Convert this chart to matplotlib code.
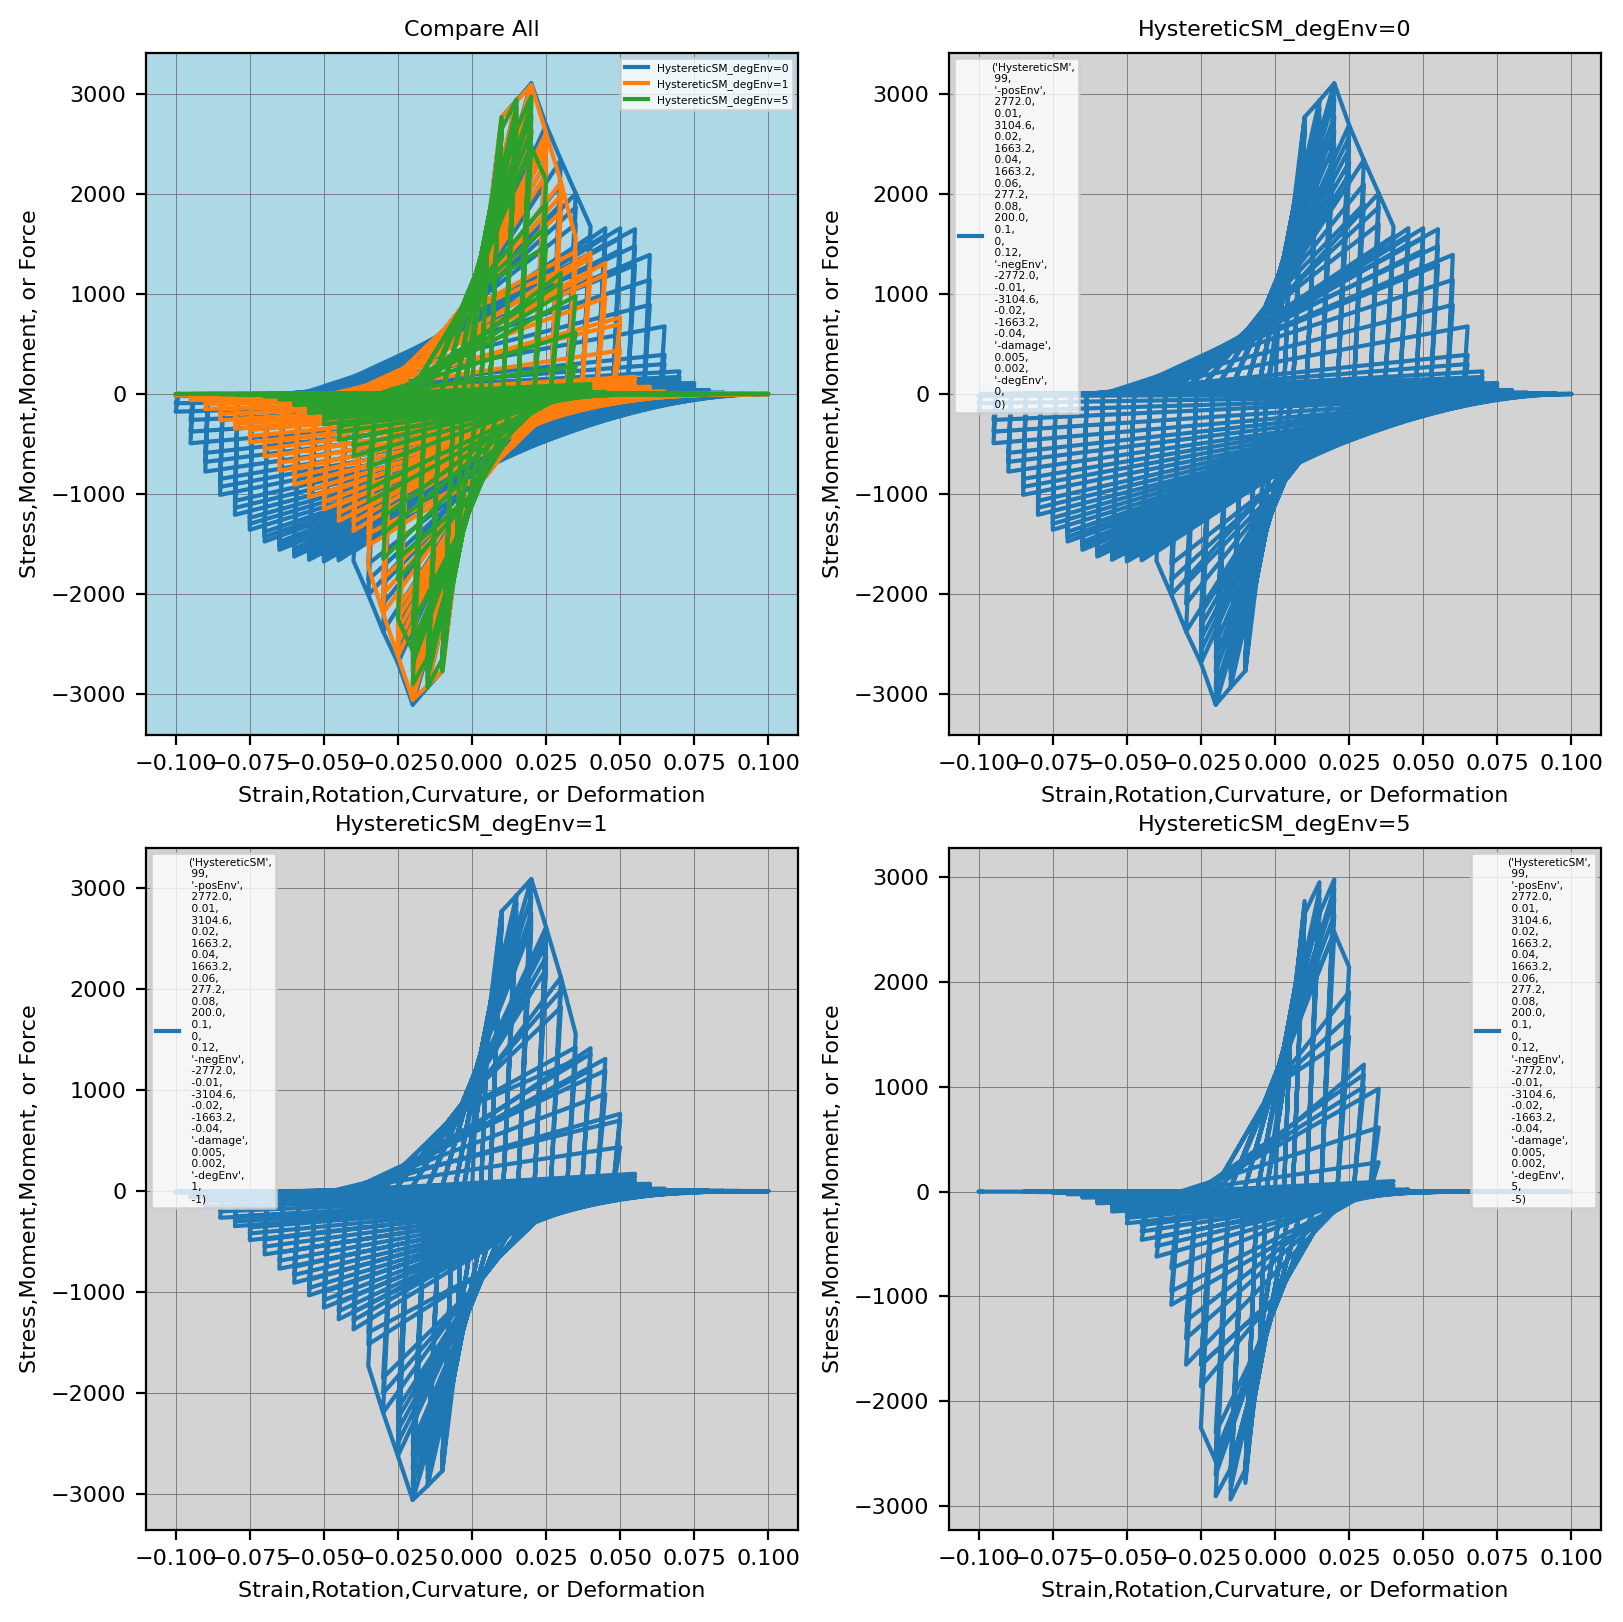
import matplotlib
matplotlib.use('Agg')
import matplotlib.pyplot as plt

# amplitudes of the strain history, one column of loop tips for each
amps = [0.005, 0.01, 0.015, 0.02, 0.025, 0.03, 0.035, 0.04, 0.045, 0.05,
        0.055, 0.06, 0.065, 0.07, 0.075, 0.08, 0.085, 0.09, 0.095, 0.1]
# strain recovered when unloading from the tip of each column
unload_gap = [0.002, 0.004, 0.0045, 0.0045, 0.004, 0.0035, 0.003, 0.003, 0.003, 0.0025,
              0.0025, 0.002, 0.0015, 0.001, 0.001, 0.001, 0.001, 0.001, 0.001, 0.001]
# pinching point on the way back up
knee_x = [0.001, 0.0072, 0.005, 0.002, -0.0005, -0.002, -0.004, -0.0073]
knee_y = [650, 2010, 1577, 1250, 1000, 920, 800, 650]

# tip stress per cycle
s0_pos = [[1386, 1386, 1386], [2772, 2740, 2700, 2670, 2650], [2938, 2860, 2780, 2700, 2650],
          [3110, 2950, 2780, 2640, 2500], [2693, 2570, 2450, 2320, 2200], [2343, 2100, 1900],
          [2010, 1870, 1700], [1677, 1580, 1500],
          [1660, 1590, 1500], [1660, 1560, 1440], [1650, 1480, 1290], [1393, 1143, 893],
          [677, 393, 300], [227, 170, 130], [110, 80, 60], [40, 30, 20],
          [15, 10, 8], [5, 3, 2], [2, 1, 1], [0, 0, 0]]
s0_neg = [[-1386, -1386, -1386], [-2772, -2740, -2700, -2670, -2650], [-2938, -2860, -2780, -2700, -2650],
          [-3110, -2950, -2780, -2640, -2500], [-2693, -2570, -2450, -2320, -2200], [-2377, -2100, -1900],
          [-2010, -1860, -1700], [-1670, -1580, -1500],
          [-1665, -1640, -1610], [-1677, -1650, -1620], [-1660, -1630, -1600], [-1627, -1590, -1550],
          [-1560, -1520, -1480], [-1477, -1430, -1380], [-1360, -1300, -1240], [-1210, -1140, -1070],
          [-1010, -930, -850], [-777, -680, -590], [-493, -377, -260], [-177, -93, -20]]

s1_pos = [[1386, 1386, 1386], [2772, 2740, 2700, 2670, 2650], [2930, 2850, 2770, 2700, 2650],
          [3092, 2920, 2750, 2680, 2614], [2614, 2530, 2449, 2320, 2200], [2119, 1987, 1822],
          [1558, 1426, 1300], [1416, 1360, 1200],
          [1310, 1195, 964], [766, 700, 436], [172, 140, 100], [73, 60, 40],
          [25, 20, 15], [10, 8, 6], [5, 4, 3], [3, 2, 2],
          [2, 1, 1], [1, 1, 1], [1, 0, 0], [0, 0, 0]]
s1_neg = [[-1386, -1386, -1386], [-2772, -2740, -2700, -2670, -2650], [-2920, -2840, -2760, -2700, -2640],
          [-3060, -2900, -2750, -2620, -2500], [-2624, -2492, -2370, -2250, -2150], [-2195, -2003, -1850],
          [-1730, -1518, -1400], [-1370, -1280, -1200],
          [-1270, -1190, -1110], [-1155, -1080, -1000], [-1033, -960, -880], [-908, -830, -750],
          [-769, -690, -610], [-627, -550, -480], [-485, -420, -360], [-347, -300, -250],
          [-264, -200, -150], [-150, -100, -70], [-60, -40, -25], [-15, -8, -3]]

s5_pos = [[1386, 1386, 1386], [2772, 2740, 2700, 2670, 2650], [2950, 2870, 2800, 2720, 2650],
          [2978, 2890, 2800, 2640, 2473], [2142, 1905, 1669, 1479], [1211, 1117, 1000],
          [981, 612, 280], [100, 60, 30],
          [20, 10, 5], [3, 2, 1], [1, 1, 0], [0, 0, 0],
          [0, 0, 0], [0, 0, 0], [0, 0, 0], [0, 0, 0],
          [0, 0, 0], [0, 0, 0], [0, 0, 0], [0, 0, 0]]
s5_neg = [[-1386, -1386, -1386], [-2778, -2740, -2700, -2670, -2650], [-2936, -2841, -2770, -2700, -2640],
          [-2905, -2700, -2500, -2300, -2571], [-2254, -1857, -1650], [-1650, -1400, -1232],
          [-1079, -950, -730], [-620, -520, -440],
          [-460, -380, -320], [-302, -250, -210], [-190, -160, -130], [-111, -90, -70],
          [-57, -45, -35], [-25, -20, -15], [-10, -8, -5], [-4, -3, -2],
          [-2, -1, -1], [-1, -1, 0], [0, 0, 0], [0, 0, 0]]

names = ['HystereticSM_degEnv=0', 'HystereticSM_degEnv=1', 'HystereticSM_degEnv=5']
legend_params = ["'HystereticSM'", "99", "'-posEnv'", "2772.0", "0.01", "3104.6", "0.02", "1663.2",
                 "0.04", "1663.2", "0.06", "277.2", "0.08", "200.0", "0.1", "0", "0.12", "'-negEnv'",
                 "-2772.0", "-0.01", "-3104.6", "-0.02", "-1663.2", "-0.04", "'-damage'", "0.005",
                 "0.002", "'-degEnv'"]
deg_values = [("0", "0"), ("1", "-1"), ("5", "-5")]


def pick(row, c):
    return row[min(c, len(row) - 1)]


def build_path(pos, neg, n_knee, n_soft, from_last=0):
    # from_last: softening runs from the first (0) or last (-1) cycle of previous column
    xs, ys = [0.0], [0.0]
    for i, a in enumerate(amps):
        for c in range(max(len(pos[i]), len(neg[i]))):
            # up to the positive tip
            if i < n_knee:
                xs.append(knee_x[i]); ys.append(knee_y[i])
            if c == 0 and 1 <= i < n_soft:
                xs.append(amps[i - 1]); ys.append(pos[i - 1][from_last])
            xs.append(a); ys.append(pick(pos[i], c))
            xs.append(a - unload_gap[i]); ys.append(0)
            # down to the negative tip
            if i < n_knee:
                xs.append(-knee_x[i]); ys.append(-knee_y[i])
            if c == 0 and 1 <= i < n_soft:
                xs.append(-amps[i - 1]); ys.append(neg[i - 1][from_last])
            xs.append(-a); ys.append(pick(neg[i], c))
            xs.append(-a + unload_gap[i]); ys.append(0)
    return xs, ys


def make_label(k):
    items = legend_params + list(deg_values[k])
    return "(" + ",\n ".join(items) + ")"


curves = [build_path(s0_pos, s0_neg, 8, 8),
          build_path(s1_pos, s1_neg, 7, 7),
          build_path(s5_pos, s5_neg, 5, 5, from_last=-1)]

plt.rcParams['font.size'] = 8
fig, axes = plt.subplots(2, 2, figsize=(8.12, 8.11), dpi=200)
fig.subplots_adjust(left=146 / 1624, right=1601 / 1624, bottom=1 - 1530 / 1622, top=1 - 53 / 1622,
                    wspace=0.2316, hspace=0.1657)

LW = 1.5
GRID = dict(color='#707070', linewidth=0.3)
LEG = dict(fontsize=3.85, handlelength=2.2)

# all three together
ax = axes[0, 0]
for k, (xs, ys) in enumerate(curves):
    ax.plot(xs, ys, lw=LW, label=names[k])
ax.set_facecolor('lightblue')
ax.set_title('Compare All', fontsize=8)
ax.set_ylim(-3414, 3414)
ax.legend(loc='upper right', **LEG)

# one panel per degEnv
panels = [(axes[0, 1], 0, (-3414, 3414), 'upper left'),
          (axes[1, 0], 1, (-3358, 3400), 'upper left'),
          (axes[1, 1], 2, (-3227, 3277), 'upper right')]
for ax, k, lims, loc in panels:
    ax.plot(curves[k][0], curves[k][1], lw=LW, label=make_label(k))
    ax.set_facecolor('lightgray')
    ax.set_title(names[k], fontsize=8)
    ax.set_ylim(*lims)
    ax.legend(loc=loc, **LEG)

for ax in axes.flat:
    ax.set_xlim(-0.11, 0.11)
    ax.grid(True, **GRID)
    ax.set_axisbelow(True)
    ax.set_xlabel('Strain,Rotation,Curvature, or Deformation')
    ax.set_ylabel('Stress,Moment,Moment, or Force')

plt.savefig('out.png', dpi=200)
